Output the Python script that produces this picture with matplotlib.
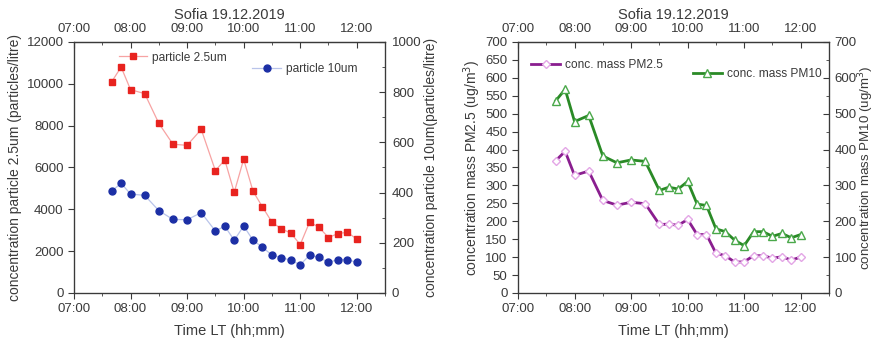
import numpy as np
import matplotlib.pyplot as plt
from matplotlib.ticker import MultipleLocator, FuncFormatter

plt.rcParams['font.family'] = ['Liberation Sans', 'DejaVu Sans']

# sampling times (local time)
times = ["07:40", "07:50", "08:00", "08:15", "08:30", "08:45", "09:00", "09:15",
         "09:30", "09:40", "09:50", "10:00", "10:10", "10:20", "10:30", "10:40",
         "10:50", "11:00", "11:10", "11:20", "11:30", "11:40", "11:50", "12:00"]

# particle counts (particles/litre)
particle_25 = [10100, 10800, 9720, 9530, 8110, 7110, 7060, 7820, 5850, 6360, 4810, 6390,
               4860, 4110, 3390, 3060, 2870, 2310, 3390, 3140, 2650, 2840, 2900, 2580]
particle_10 = [406, 437, 394, 389, 328, 293, 292, 320, 247, 266, 210, 267,
               210, 182, 151, 141, 131, 112, 151, 142, 122, 133, 133, 122]

# mass concentrations (ug/m3)
pm25 = [369, 395, 328, 340, 258, 245, 253, 249, 191, 192, 189, 205,
        163, 163, 111, 104, 86, 87, 104, 104, 97, 101, 92, 100]
pm10 = [536, 568, 478, 495, 382, 363, 371, 367, 286, 295, 290, 311,
        248, 244, 179, 171, 147, 132, 171, 171, 158, 166, 154, 163]

title = "Sofia 19.12.2019"
xlabel = "Time LT (hh;mm)"

t = np.array([int(s[:2]) + int(s[3:]) / 60 for s in times])

GREY = "#3a3a3a"
TICK_FS = 9.5
LABEL_FS = 10


def hhmm(x, pos):
    h = int(round(x * 60)) // 60
    m = int(round(x * 60)) % 60
    return f"{h:02d}:{m:02d}"


def style_time_axes(ax):
    ax.set_xlim(7.0, 12.5)
    ax.xaxis.set_major_locator(MultipleLocator(1))
    ax.xaxis.set_minor_locator(MultipleLocator(0.5))
    ax.xaxis.set_major_formatter(FuncFormatter(hhmm))
    ax.tick_params(axis='x', which='both', direction='out', colors=GREY, labelsize=TICK_FS)
    ax.tick_params(axis='y', which='both', direction='out', colors=GREY, labelsize=TICK_FS)
    ax.tick_params(which='major', length=4)
    ax.tick_params(which='minor', length=2.5)
    for sp in ax.spines.values():
        sp.set_color(GREY)
        sp.set_linewidth(0.9)
    ax.set_xlabel(xlabel, fontsize=10.5, color=GREY, labelpad=6)
    top = ax.secondary_xaxis('top')
    top.xaxis.set_major_locator(MultipleLocator(1))
    top.xaxis.set_minor_locator(MultipleLocator(0.5))
    top.xaxis.set_major_formatter(FuncFormatter(hhmm))
    top.tick_params(which='both', direction='in', colors=GREY, labelsize=TICK_FS, pad=5)
    top.tick_params(which='major', length=4)
    top.tick_params(which='minor', length=2.5)
    top.spines['top'].set_color(GREY)
    top.set_xlabel(title, fontsize=10.5, color=GREY, labelpad=3)


def style_right_axis(ax):
    ax.tick_params(axis='y', which='both', direction='in', colors=GREY,
                   labelsize=TICK_FS, pad=5)
    ax.tick_params(which='major', length=4)
    ax.tick_params(which='minor', length=2.5)
    for sp in ax.spines.values():
        sp.set_color(GREY)


fig = plt.figure(figsize=(8.78, 3.42), dpi=100)

# left panel: particle counts
ax1 = fig.add_axes([0.0843, 0.1433, 0.3542, 0.734])
style_time_axes(ax1)
ax1.set_ylim(0, 12000)
ax1.yaxis.set_major_locator(MultipleLocator(2000))
ax1.set_ylabel("concentration particle 2.5um (particles/litre)", fontsize=LABEL_FS,
               color=GREY, labelpad=3)
l1, = ax1.plot(t, particle_25, color="#f7a3a3", lw=0.9, marker="s", ms=3.8,
               mfc="#e8231f", mec="#e8231f", label="particle 2.5um")

ax1r = ax1.twinx()
ax1r.set_ylim(0, 1000)
ax1r.yaxis.set_major_locator(MultipleLocator(200))
ax1r.yaxis.set_minor_locator(MultipleLocator(100))
style_right_axis(ax1r)
ax1r.set_ylabel("concentration particle 10um(particles/litre)", fontsize=LABEL_FS,
                color=GREY, labelpad=2)
l2, = ax1r.plot(t, particle_10, color="#b9c4ea", lw=0.9, marker="o", ms=5,
                mfc="#1c2fa5", mec="#1c2fa5", label="particle 10um")

leg_kw = dict(frameon=False, fontsize=8.6, handlelength=2.4, handletextpad=0.4,
              borderaxespad=0.2, labelcolor=GREY)
ax1r.add_artist(ax1r.legend(handles=[l1], loc="upper left",
                            bbox_to_anchor=(0.12, 0.99), **leg_kw))
ax1r.legend(handles=[l2], loc="upper left", bbox_to_anchor=(0.55, 0.945), **leg_kw)

# right panel: mass concentrations
ax2 = fig.add_axes([0.59, 0.1433, 0.3542, 0.734])
style_time_axes(ax2)
ax2.set_ylim(0, 700)
ax2.yaxis.set_major_locator(MultipleLocator(50))
ax2.set_ylabel("concentration mass PM2.5 (ug/m$^3$)", fontsize=LABEL_FS, color=GREY,
               labelpad=2)
l3, = ax2.plot(t, pm25, color="#8a1e8f", lw=2.0, marker="D", ms=4.5,
               mfc="white", mec="#e3a6e6", mew=1.0, label="conc. mass PM2.5")

ax2r = ax2.twinx()
ax2r.set_ylim(0, 700)
ax2r.yaxis.set_major_locator(MultipleLocator(100))
ax2r.yaxis.set_minor_locator(MultipleLocator(50))
style_right_axis(ax2r)
ax2r.tick_params(axis='y', pad=4)
ax2r.set_ylabel("concentration mass PM10 (ug/m$^3$)", fontsize=9.6, color=GREY,
                labelpad=0)
l4, = ax2r.plot(t, pm10, color="#2a8a26", lw=2.0, marker="^", ms=6,
                mfc="white", mec="#4aa84a", mew=1.0, label="conc. mass PM10")

ax2r.add_artist(ax2r.legend(handles=[l3], loc="upper left",
                            bbox_to_anchor=(0.02, 0.96), **leg_kw))
ax2r.legend(handles=[l4], loc="upper left", bbox_to_anchor=(0.54, 0.925), **leg_kw)

fig.savefig("out.png", dpi=100)
